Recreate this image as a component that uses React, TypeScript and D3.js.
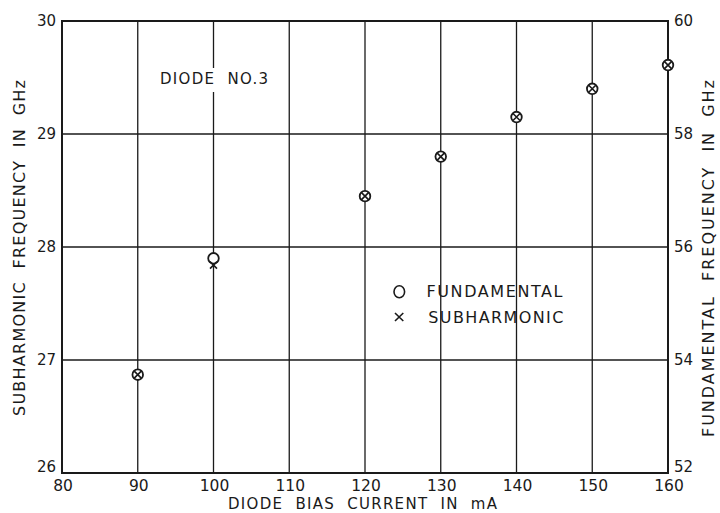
import React from "react";
import * as d3 from "d3";

const currents = [90, 100, 120, 130, 140, 150, 160];
const fundamental = [26.87, 27.9, 28.45, 28.8, 29.15, 29.4, 29.61];
const subCurrents = [90, 100, 120, 130, 140, 150, 160];
const subharmonic = [26.87, 27.84, 28.45, 28.8, 29.15, 29.4, 29.61];
const xTicks = [80, 90, 100, 110, 120, 130, 140, 150, 160];
const leftTicks = [26, 27, 28, 29, 30];
const rightTicks = [52, 54, 56, 58, 60];

const W = 720, H = 513;
const L = 62, R = 668, T = 21, B = 473;
const ink = "#1a1a1a";
const font = "'DejaVu Sans', 'Liberation Sans', sans-serif";

export default function App() {
  const x = d3.scaleLinear().domain([80, 160]).range([L, R]);
  const yL = d3.scaleLinear().domain([26, 30]).range([B, T]);
  const yR = d3.scaleLinear().domain([52, 60]).range([B, T]);
  const r = 5.3;
  const pre = { whiteSpace: "pre" as const };
  return (
    <svg width={W} height={H} style={{ position: "absolute", left: 0, top: 0, background: "#fff" }}>
      <rect x={0} y={0} width={W} height={H} fill="#fff" />
      {xTicks.slice(1, -1).map((t) => (
        <line key={"gx" + t} x1={x(t)} x2={x(t)} y1={T} y2={B} stroke={ink} strokeWidth={1.3} />
      ))}
      {leftTicks.slice(1, -1).map((t) => (
        <line key={"gy" + t} x1={L} x2={R} y1={yL(t)} y2={yL(t)} stroke={ink} strokeWidth={1.3} />
      ))}
      <rect x={L} y={T} width={R - L} height={B - T} fill="none" stroke={ink} strokeWidth={2} />
      <rect x={157} y={68} width={114} height={24} fill="#fff" />
      <text x={160} y={83.5} fontFamily={font} fontSize={15} fill={ink} textLength={108} lengthAdjust="spacing" style={pre}>DIODE  NO.3</text>
      {xTicks.map((t) => (
        <text key={"xt" + t} x={x(t) + 1} y={490.5} textAnchor="middle" fontFamily={font} fontSize={15.5} fill={ink}>{t}</text>
      ))}
      {leftTicks.map((t) => (
        <text key={"lt" + t} x={56} y={yL(t) + (t === 26 ? -6 : 0)} dy="0.36em" textAnchor="end" fontFamily={font} fontSize={15} fill={ink}>{t}</text>
      ))}
      {rightTicks.map((t) => (
        <text key={"rt" + t} x={674} y={yR(t) + (t === 52 ? -6 : 0)} dy="0.36em" textAnchor="start" fontFamily={font} fontSize={15} fill={ink}>{t}</text>
      ))}
      <text x={228} y={509} fontFamily={font} fontSize={15} fill={ink} textLength={269} lengthAdjust="spacing" style={pre}>DIODE  BIAS  CURRENT  IN  mA</text>
      <text transform={`translate(25,416) rotate(-90)`} fontFamily={font} fontSize={16} fill={ink} textLength={336} lengthAdjust="spacing" style={pre}>SUBHARMONIC  FREQUENCY  IN  GHz</text>
      <text transform={`translate(714,437) rotate(-90)`} fontFamily={font} fontSize={16} fill={ink} textLength={357} lengthAdjust="spacing" style={pre}>FUNDAMENTAL  FREQUENCY  IN  GHz</text>
      {currents.map((c, i) => (
        <circle key={"f" + c} cx={x(c)} cy={yL(fundamental[i])} r={r} fill="#fff" stroke={ink} strokeWidth={1.8} />
      ))}
      {subCurrents.map((c, i) => {
        const cx = x(c), cy = yL(subharmonic[i]), s = 3.5;
        return (
          <path key={"s" + c} d={`M${cx - s},${cy - s}L${cx + s},${cy + s}M${cx - s},${cy + s}L${cx + s},${cy - s}`} stroke={ink} strokeWidth={1.6} fill="none" />
        );
      })}
      <ellipse cx={399.3} cy={291.7} rx={5.3} ry={6} fill="#fff" stroke={ink} strokeWidth={1.6} />
      <text x={426.5} y={297} fontFamily={font} fontSize={16} fill={ink} textLength={136} lengthAdjust="spacing">FUNDAMENTAL</text>
      <path d="M395,313L403.3,321M395,321L403.3,313" stroke={ink} strokeWidth={1.6} />
      <text x={428.3} y={322.7} fontFamily={font} fontSize={16} fill={ink} textLength={135} lengthAdjust="spacing">SUBHARMONIC</text>
    </svg>
  );
}
